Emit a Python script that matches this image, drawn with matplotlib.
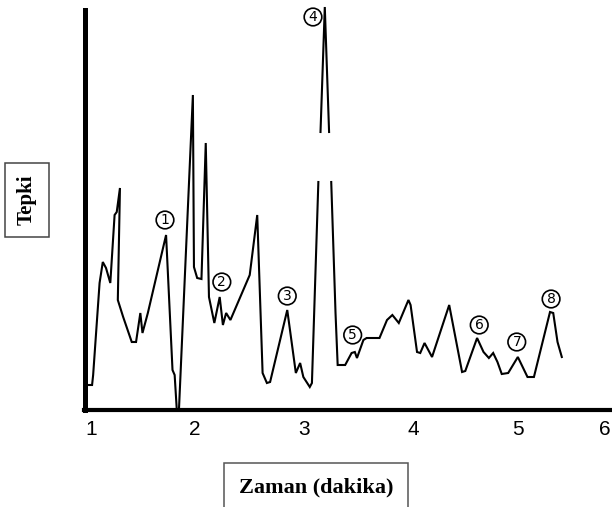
import numpy as np
import matplotlib
matplotlib.use("Agg")
import matplotlib.pyplot as plt

# Retention time (minutes) and detector response (arbitrary units)
time_min = [0.94, 1.01, 1.02, 1.08, 1.11, 1.14, 1.18, 1.22, 1.24, 1.27, 1.25, 1.30,
            1.38, 1.42, 1.46, 1.48, 1.53, 1.70, 1.76, 1.78, 1.80, 1.82, 1.95, 1.96,
            1.99, 2.03, 2.07, 2.10, 2.15, 2.20, 2.23, 2.26, 2.30, 2.34, 2.48, 2.55,
            2.60, 2.64, 2.67, 2.83, 2.91, 2.95, 2.98, 3.04, 3.06, 3.12, np.nan, 3.14,
            3.18, 3.22, np.nan, 3.24, 3.28, 3.30, 3.37, 3.43, 3.46, 3.48, 3.54, 3.57,
            3.69, 3.76, 3.81, 3.87, 3.96, 3.98, 4.04, 4.07, 4.11, 4.18, 4.34, 4.46,
            4.49, 4.60, 4.66, 4.71, 4.75, 4.79, 4.83, 4.89, 4.98, 5.07, 5.13, 5.28,
            5.31, 5.35, 5.39]
response = [6.25, 6.25, 8.75, 31.75, 37.0, 35.5, 31.75, 48.75, 49.5, 55.5, 27.5, 23.25,
            17.0, 17.0, 24.25, 19.25, 24.25, 43.75, 10.0, 8.75, 0.0, 0.0, 78.75, 35.75,
            33.0, 32.75, 66.75, 28.25, 21.75, 28.25, 21.25, 24.25, 22.5, 25.0, 33.75, 48.75,
            9.25, 6.75, 7.0, 25.0, 9.25, 11.75, 8.25, 5.75, 6.75, 57.0, np.nan, 69.5,
            100.75, 69.5, np.nan, 57.0, 24.25, 11.25, 11.25, 14.25, 14.5, 13.0, 17.5, 18.0,
            18.0, 22.5, 23.75, 21.75, 27.5, 26.25, 14.5, 14.25, 16.75, 13.25, 26.25, 9.5,
            9.75, 18.0, 14.5, 13.0, 14.25, 12.0, 9.0, 9.25, 13.25, 8.25, 8.25, 24.5,
            24.25, 17.0, 13.25]

# Peak labels
peak_labels = ["1", "2", "3", "4", "5", "6", "7", "8"]
peak_t = [1.69, 2.22, 2.83, 3.07, 3.44, 4.62, 4.97, 5.29]
peak_r = [47.5, 32.0, 28.5, 98.25, 18.75, 21.25, 17.0, 27.75]

tick_pos = [1.0, 1.97, 2.99, 4.01, 4.98, 5.79]
tick_labels = ["1", "2", "3", "4", "5", "6"]

fig = plt.figure(figsize=(6.12, 5.07), dpi=100)
ax = fig.add_axes([84.5 / 612, 97 / 507, 1 - 84.5 / 612, 400 / 507])

ax.plot(time_min, response, color="black", lw=1.5, clip_on=False,
        solid_joinstyle="miter")

for lab, t, r in zip(peak_labels, peak_t, peak_r):
    ax.text(t, r, lab, ha="center", va="center", fontsize=10,
            family="DejaVu Sans",
            bbox=dict(boxstyle="circle,pad=0.13", fc="white", ec="black", lw=1.2))

ax.set_xlim(0.9394, 5.858)
ax.set_ylim(0, 100)

for s in ["top", "right"]:
    ax.spines[s].set_visible(False)
ax.spines["left"].set_linewidth(3.6)
ax.spines["bottom"].set_linewidth(3.0)
ax.set_yticks([])
ax.set_xticks(tick_pos)
ax.set_xticklabels(tick_labels, family="Liberation Sans", fontsize=15)
ax.tick_params(axis="x", length=0, pad=7)

fig.text(27 / 612, 1 - 200 / 507, "Tepki", rotation=90, ha="center", va="center",
         family="Liberation Serif", fontweight="bold", fontsize=15,
         bbox=dict(boxstyle="square,pad=0.58", fc="white", ec="#444444", lw=1.1))
fig.text(316 / 612, 1 - 487 / 507, "Zaman (dakika)", ha="center", va="center",
         family="Liberation Serif", fontweight="bold", fontsize=16,
         bbox=dict(boxstyle="square,pad=0.65", fc="white", ec="#555555", lw=1.1))

fig.savefig("out.png", dpi=100)
